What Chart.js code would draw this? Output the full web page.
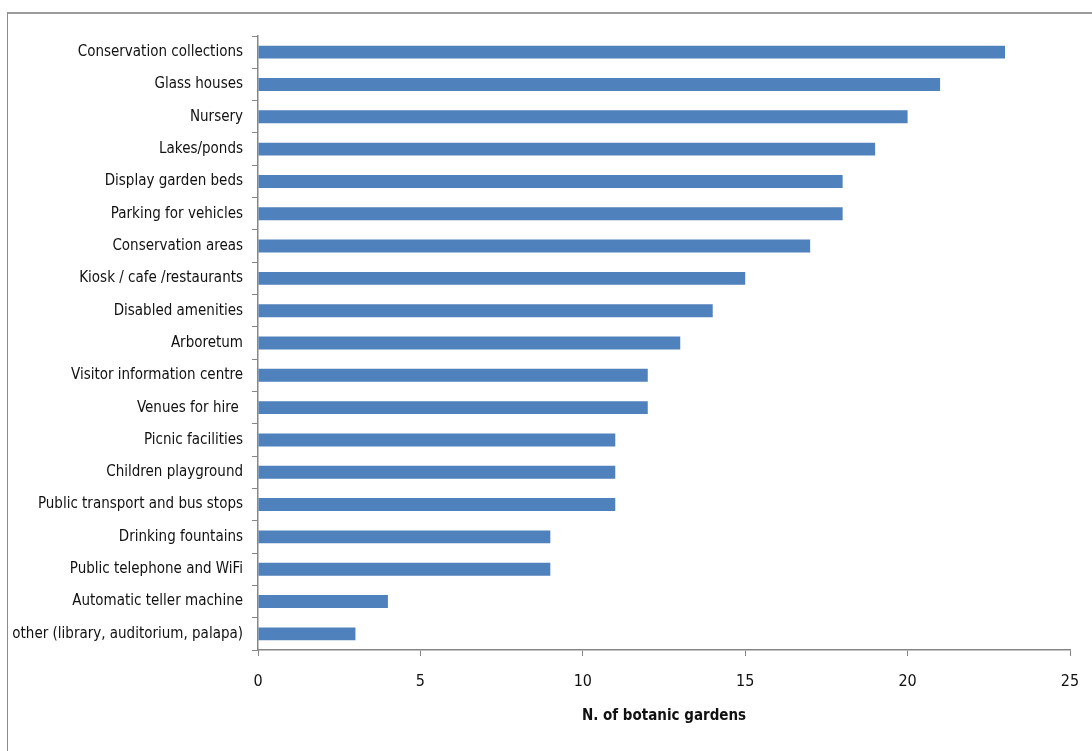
<!DOCTYPE html>
<html>
<head>
<meta charset="utf-8">
<script src="https://cdn.jsdelivr.net/npm/chart.js@4/dist/chart.umd.min.js"></script>
<style>
  html, body { margin: 0; padding: 0; background: #fff; }
  #wrap { position: relative; width: 1092px; height: 751px; overflow: hidden; }
  #frame {
    position: absolute; left: 7px; top: 12px; right: -2px; bottom: -2px;
    border-left: 1px solid #8c8c8c; border-top: 2px solid #9a9a9a;
  }
  canvas { position: absolute; left: 0; top: 0; }
</style>
</head>
<body>
<div id="wrap">
  <div id="frame"></div>
  <canvas id="chart" width="1092" height="751"></canvas>
</div>
<script>
// Facilities found in botanic gardens
const facilities = [
  "Conservation collections",
  "Glass houses",
  "Nursery",
  "Lakes/ponds",
  "Display garden beds",
  "Parking for vehicles",
  "Conservation areas",
  "Kiosk / cafe /restaurants",
  "Disabled amenities",
  "Arboretum",
  "Visitor information centre",
  "Venues for hire ",
  "Picnic facilities",
  "Children playground",
  "Public transport and bus stops",
  "Drinking fountains",
  "Public telephone and WiFi",
  "Automatic teller machine",
  "other (library, auditorium, palapa)",
];
const gardenCounts = [23, 21, 20, 19, 18, 18, 17, 15, 14, 13, 12, 12, 11, 11, 11, 9, 9, 4, 3];
const xTicks = [0, 5, 10, 15, 20, 25];

const labelFont = { family: "'Liberation Sans Narrow', 'DejaVu Sans Condensed', sans-serif", size: 15 };
const axisGrey = "#868686";

const ctx = document.getElementById("chart").getContext("2d");
new Chart(ctx, {
  type: "bar",
  data: {
    labels: facilities,
    datasets: [
      {
        label: "N. of botanic gardens",
        data: gardenCounts,
        backgroundColor: "#4F81BD",
        borderWidth: 0,
        categoryPercentage: 1,
        barPercentage: 0.4,
      },
    ],
  },
  options: {
    indexAxis: "y",
    responsive: false,
    animation: false,
    layout: { padding: { left: 0, top: 36, right: 0, bottom: 22 } },
    plugins: {
      legend: { display: false },
      tooltip: { enabled: false },
    },
    scales: {
      x: {
        min: 0,
        max: 25,
        afterBuildTicks: (scale) => {
          scale.ticks = xTicks.map((v) => ({ value: v }));
        },
        afterFit: (scale) => {
          scale.height = 79;
          scale.paddingRight = 22;
        },
        border: { color: axisGrey, width: 1.5 },
        grid: { drawOnChartArea: false, color: axisGrey, tickLength: 6 },
        ticks: { font: { family: labelFont.family, size: 16 }, color: "#111", padding: 16 },
        title: {
          display: true,
          text: "N. of botanic gardens",
          font: { family: labelFont.family, size: 15, weight: "bold" },
          color: "#111",
          padding: { top: 8 },
        },
      },
      y: {
        afterFit: (scale) => {
          scale.width = 258;
        },
        border: { color: axisGrey, width: 1.5 },
        grid: { drawOnChartArea: false, color: axisGrey, tickLength: 6, offset: true },
        ticks: { font: labelFont, color: "#111", padding: 9, autoSkip: false },
      },
    },
  },
});
</script>
</body>
</html>
